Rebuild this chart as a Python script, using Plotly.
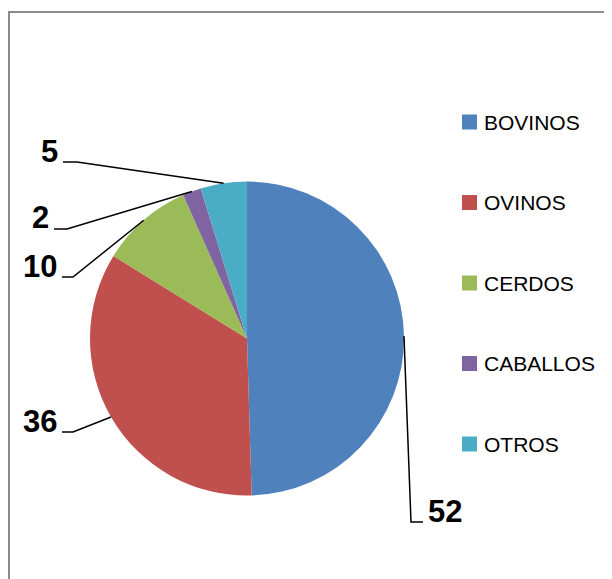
import math
import plotly.graph_objects as go

# ---- data ----
categories = ["BOVINOS", "OVINOS", "CERDOS", "CABALLOS", "OTROS"]
values = [52, 36, 10, 2, 5]
colors = ["#4F81BD", "#C0504D", "#9BBB59", "#8064A2", "#4BACC6"]

# ---- layout constants (page pixels) ----
W, H = 612, 579
OFF = 8                                # page body margin
CX, CY, R = 247, 338.5, 157           # pie centre / radius
# label placement: (elbow x, elbow y, tail x, side)
label_place = [
    (411, 522, 423, "right"),
    (73, 432, 62, "left"),
    (73, 277, 62, "left"),
    (67, 229, 54, "left"),
    (77, 162, 63, "left"),
]
LEG_X, LEG_Y0, LEG_DY, LEG_SQ = 462, 122, 80.5, 15


def px(x):
    return (x - OFF) / W


def py(y):
    return 1 - (y - OFF) / H


fig = go.Figure()
fig.add_trace(go.Pie(
    labels=categories,
    values=values,
    sort=False,
    direction="clockwise",
    rotation=0,
    marker=dict(colors=colors, line=dict(width=0)),
    textinfo="none",
    showlegend=False,
    domain=dict(x=[px(CX - R), px(CX + R)], y=[py(CY + R), py(CY - R)]),
))

shapes = []
annotations = []

# chart border (only top/left visible in frame)
shapes.append(dict(type="rect", xref="paper", yref="paper",
                   x0=px(9), y0=py(620), x1=px(660), y1=py(12),
                   line=dict(color="#8C8C8C", width=2), fillcolor="rgba(0,0,0,0)"))

total = sum(values)
cum = 0
for v, (ex, ey, tx, side) in zip(values, label_place):
    mid = (cum + v / 2) / total * 2 * math.pi
    cum += v
    ax = CX + R * math.sin(mid)
    ay = CY - R * math.cos(mid)
    path = f"M {px(ax)},{py(ay)} L {px(ex)},{py(ey)} L {px(tx)},{py(ey)}"
    shapes.append(dict(type="path", xref="paper", yref="paper", path=path,
                       line=dict(color="black", width=1.5)))
    if side == "right":
        annotations.append(dict(x=px(tx + 3), y=py(ey - 11), xref="paper", yref="paper",
                                text=f"<b>{v}</b>", showarrow=False,
                                xanchor="left", yanchor="middle",
                                font=dict(family="Liberation Sans", size=31, color="black")))
    else:
        annotations.append(dict(x=px(tx - 3), y=py(ey - 11), xref="paper", yref="paper",
                                text=f"<b>{v}</b>", showarrow=False,
                                xanchor="right", yanchor="middle",
                                font=dict(family="Liberation Sans", size=31, color="black")))

# legend
for i, (name, col) in enumerate(zip(categories, colors)):
    yc = LEG_Y0 + i * LEG_DY
    shapes.append(dict(type="rect", xref="paper", yref="paper",
                       x0=px(LEG_X), x1=px(LEG_X + LEG_SQ),
                       y0=py(yc + LEG_SQ / 2), y1=py(yc - LEG_SQ / 2),
                       line=dict(width=0), fillcolor=col))
    annotations.append(dict(x=px(LEG_X + LEG_SQ + 5), y=py(yc), xref="paper", yref="paper",
                            text=name, showarrow=False, xanchor="left", yanchor="middle",
                            font=dict(family="Liberation Sans", size=21, color="black")))

fig.update_layout(
    width=W, height=H,
    margin=dict(l=0, r=0, t=0, b=0),
    paper_bgcolor="white",
    plot_bgcolor="white",
    shapes=shapes,
    annotations=annotations,
)

fig.write_html("out.html")
